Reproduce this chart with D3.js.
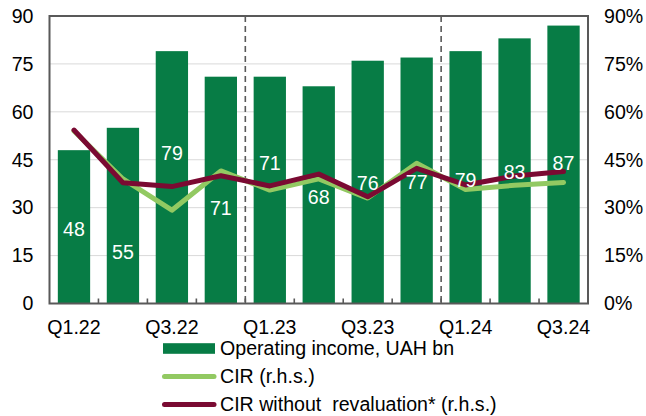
<!DOCTYPE html>
<html>
<head>
<meta charset="utf-8">
<script src="https://cdn.jsdelivr.net/npm/d3@7"></script>
<style>
  html, body { margin: 0; padding: 0; background: #fff; }
  svg { display: block; font-family: "Liberation Sans", Arial, sans-serif; }
</style>
</head>
<body>
<svg id="chart" width="646" height="416"></svg>
<script>
// Quarterly operating income (UAH bn) and cost-to-income ratios (%)
const quarters = ["Q1.22","Q2.22","Q3.22","Q4.22","Q1.23","Q2.23","Q3.23","Q4.23","Q1.24","Q2.24","Q3.24"];
const operatingIncome = [48, 55, 79, 71, 71, 68, 76, 77, 79, 83, 87];
const cir = [54, 39, 29.2, 41.5, 35.5, 39, 33, 43.9, 35.7, 37, 37.9];
const cirNoReval = [54.3, 37.8, 36.6, 40, 36.8, 40.5, 33.4, 42.3, 37.1, 39.9, 41.3];
const leftTicks = [0, 15, 30, 45, 60, 75, 90];
const rightTicks = [0, 15, 30, 45, 60, 75, 90];
const shownQuarters = ["Q1.22","Q3.22","Q1.23","Q3.23","Q1.24","Q3.24"];
const yearBreaks = ["Q1.23", "Q1.24"];
const legendLabels = ["Operating income, UAH bn", "CIR (r.h.s.)", "CIR without  revaluation* (r.h.s.)"];

// Vertical placement of each value label, in left-axis units
const labelLevel = [23.3, 16.1, 47.1, 29.9, 44, 33.3, 37.7, 38, 38.7, 41.2, 44];

const C = {
  bar: "#077C45",
  cir: "#92C962",
  cirNo: "#7A0A32",
  frame: "#595959",
  grid: "#D9D9D9",
  text: "#000"
};
const FS = 19.6;

const svg = d3.select("#chart");
const m = { left: 49.5, right: 588, top: 16, bottom: 303.5 };

const x = d3.scaleBand().domain(quarters).range([m.left, m.right]).paddingInner(0.34).paddingOuter(0.17);
const yL = d3.scaleLinear().domain([0, 90]).range([m.bottom, m.top]);
const yR = d3.scaleLinear().domain([0, 90]).range([m.bottom, m.top]);
const cx = q => x(q) + x.bandwidth() / 2;

// gridlines
svg.append("g").selectAll("line").data(leftTicks.filter(t => t > 0 && t < 90)).join("line")
  .attr("x1", m.left).attr("x2", m.right)
  .attr("y1", d => yL(d)).attr("y2", d => yL(d))
  .attr("stroke", C.grid).attr("stroke-width", 1);

// bars
svg.append("g").selectAll("rect").data(quarters).join("rect")
  .attr("x", d => x(d)).attr("width", x.bandwidth())
  .attr("y", (d, i) => yL(operatingIncome[i]))
  .attr("height", (d, i) => yL(0) - yL(operatingIncome[i]))
  .attr("fill", C.bar);

// year separators
const step = x.step();
svg.append("g").selectAll("line").data(yearBreaks).join("line")
  .attr("x1", d => x(d) - (step - x.bandwidth()) / 2)
  .attr("x2", d => x(d) - (step - x.bandwidth()) / 2)
  .attr("y1", m.top).attr("y2", m.bottom)
  .attr("stroke", C.frame).attr("stroke-width", 1.6).attr("stroke-dasharray", "6,4");

// CIR lines
const line = d3.line().x((d, i) => cx(quarters[i])).y(d => yR(d));
svg.append("path").datum(cir).attr("d", line)
  .attr("fill", "none").attr("stroke", C.cir).attr("stroke-width", 5)
  .attr("stroke-linejoin", "round").attr("stroke-linecap", "round");
svg.append("path").datum(cirNoReval).attr("d", line)
  .attr("fill", "none").attr("stroke", C.cirNo).attr("stroke-width", 5)
  .attr("stroke-linejoin", "round").attr("stroke-linecap", "round");

// value labels
svg.append("g").selectAll("text").data(quarters).join("text")
  .attr("x", d => cx(d)).attr("y", (d, i) => yL(labelLevel[i]))
  .attr("dy", "0.35em").attr("text-anchor", "middle")
  .attr("fill", "#fff").attr("font-size", FS)
  .text((d, i) => operatingIncome[i]);

// frame
svg.append("rect")
  .attr("x", m.left).attr("y", m.top)
  .attr("width", m.right - m.left).attr("height", m.bottom - m.top)
  .attr("fill", "none").attr("stroke", C.frame).attr("stroke-width", 2);

// x axis: ticks between quarters, labels on every other quarter
const xAxis = svg.append("g").attr("transform", `translate(0,${m.bottom})`)
  .call(d3.axisBottom(x).tickValues(shownQuarters).tickSize(0).tickPadding(0));
xAxis.select(".domain").remove();
xAxis.selectAll("text").attr("font-size", FS).attr("fill", C.text)
  .attr("font-family", "Liberation Sans, Arial, sans-serif")
  .attr("dy", null).attr("y", 30.5);
svg.append("g").selectAll("line").data(quarters.slice(1)).join("line")
  .attr("x1", d => x(d) - (step - x.bandwidth()) / 2)
  .attr("x2", d => x(d) - (step - x.bandwidth()) / 2)
  .attr("y1", m.bottom).attr("y2", m.bottom - 5)
  .attr("stroke", C.frame).attr("stroke-width", 1.6);

// left axis
const yAxisL = svg.append("g").attr("transform", `translate(${m.left},0)`)
  .call(d3.axisLeft(yL).tickValues(leftTicks).tickSize(0).tickPadding(16));
yAxisL.select(".domain").remove();
yAxisL.selectAll("text").attr("font-size", FS).attr("fill", C.text)
  .attr("font-family", "Liberation Sans, Arial, sans-serif");

// right axis
const yAxisR = svg.append("g").attr("transform", `translate(${m.right},0)`)
  .call(d3.axisRight(yR).tickValues(rightTicks).tickSize(0).tickPadding(16).tickFormat(d => d + "%"));
yAxisR.select(".domain").remove();
yAxisR.selectAll("text").attr("font-size", FS).attr("fill", C.text)
  .attr("font-family", "Liberation Sans, Arial, sans-serif");

// legend
const lg = svg.append("g").attr("transform", "translate(163,0)");
const rows = [348.5, 376.5, 404.5];
lg.append("rect").attr("x", 0).attr("y", rows[0] - 5.3).attr("width", 52).attr("height", 10.6).attr("fill", C.bar);
lg.append("line").attr("x1", 1.5).attr("x2", 51).attr("y1", rows[1]).attr("y2", rows[1])
  .attr("stroke", C.cir).attr("stroke-width", 5).attr("stroke-linecap", "round");
lg.append("line").attr("x1", 1.5).attr("x2", 51).attr("y1", rows[2]).attr("y2", rows[2])
  .attr("stroke", C.cirNo).attr("stroke-width", 5).attr("stroke-linecap", "round");
lg.selectAll("text").data(legendLabels).join("text")
  .attr("x", 57).attr("y", (d, i) => rows[i] + 6.5)
  .attr("font-size", FS).attr("fill", C.text)
  .style("white-space", "pre").attr("xml:space", "preserve")
  .text(d => d);
</script>
</body>
</html>
